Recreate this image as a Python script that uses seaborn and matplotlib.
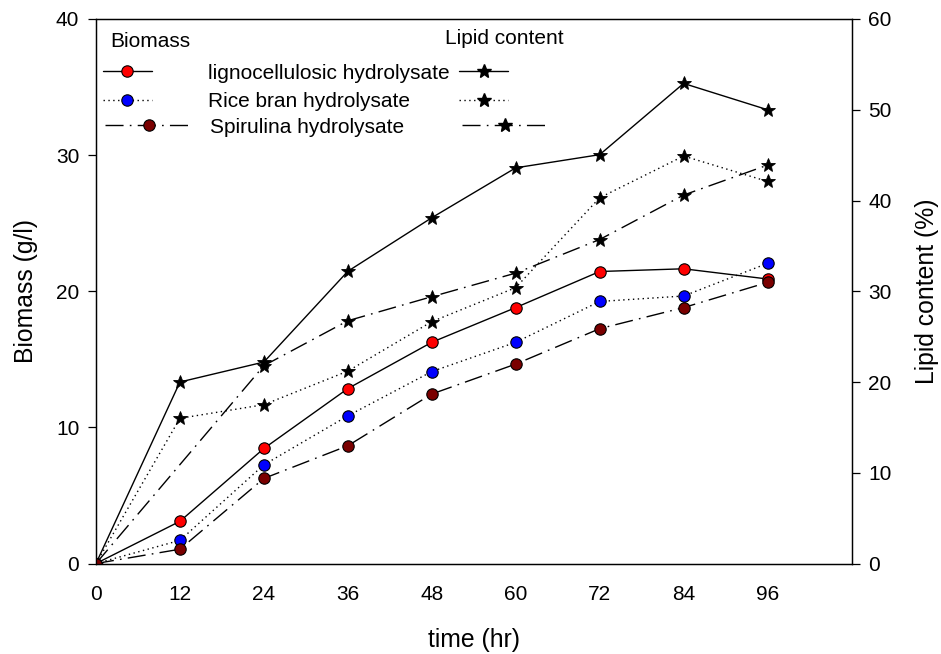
import numpy as np
import pandas as pd
import matplotlib
matplotlib.use("Agg")
import matplotlib.pyplot as plt
from matplotlib.lines import Line2D
import seaborn as sns

# ---------------- data ----------------
time = [0, 12, 24, 36, 48, 60, 72, 84, 96]
biomass_ligno = [0, 3.1, 8.45, 12.85, 16.25, 18.8, 21.45, 21.65, 20.9]
biomass_rice = [0, 1.7, 7.25, 10.85, 14.1, 16.25, 19.25, 19.65, 22.05]
biomass_spir = [0, 1.05, 6.25, 8.65, 12.45, 14.65, 17.25, 18.8, 20.65]

lipid_ligno = [0, 20.0, 22.2, 32.2, 38.1, 43.6, 45.05, 52.9, 50.0]
lipid_rice = [0, 16.0, 17.5, 21.2, 26.65, 30.4, 40.3, 44.9, 42.1]
time_lipid_spir = [0, 24, 36, 48, 60, 72, 84, 96]
lipid_spir = [0, 21.8, 26.75, 29.4, 32.0, 35.7, 40.6, 43.9]

series_labels = ["lignocellulosic hydrolysate", "Rice bran hydrolysate", "Spirulina hydrolysate"]
x_ticks = [0, 12, 24, 36, 48, 60, 72, 84, 96]

# ---------------- style ----------------
sns.set_theme(style="white")
plt.rcParams["font.family"] = ["Liberation Sans", "DejaVu Sans"]
plt.rcParams["axes.linewidth"] = 0.9
plt.rcParams["text.color"] = "black"
plt.rcParams["axes.labelcolor"] = "black"

TICK_FS = 15
LEG_FS = 15
LAB_FS = 17.8

fig = plt.figure(figsize=(9.41, 6.54), dpi=100)
fig.subplots_adjust(left=96 / 941, right=851.5 / 941, bottom=1 - 563.5 / 654, top=1 - 19 / 654)
ax = fig.add_subplot(111)
ax2 = ax.twinx()

lw = 1.0
styles = {
    "solid": "-",
    "dotted": (0, (1, 2.5)),
    "dashdot": (0, (13, 4.5, 1.2, 4.5)),
}
colors = ["#ff0000", "#0000ff", "#7a0000"]
lstyles = [styles["solid"], styles["dotted"], styles["dashdot"]]

bio_series = [biomass_ligno, biomass_rice, biomass_spir]
lip_series = [(time, lipid_ligno), (time, lipid_rice), (time_lipid_spir, lipid_spir)]

STAR_MS = 10.5
CIRC_MS = 8.2

# lipid (right axis) stars
for (tx, ly), ls in zip(lip_series, lstyles):
    df = pd.DataFrame({"time": tx, "lipid": ly})
    sns.lineplot(data=df, x="time", y="lipid", ax=ax2, color="black", linewidth=lw,
                 linestyle=ls, marker="*", markersize=STAR_MS, markerfacecolor="black",
                 markeredgecolor="black", markeredgewidth=0.6, legend=False)

# biomass (left axis) circles
for yv, c, ls in zip(bio_series, colors, lstyles):
    df = pd.DataFrame({"time": time, "biomass": yv})
    sns.lineplot(data=df, x="time", y="biomass", ax=ax, color="black",
                 linewidth=lw, linestyle=ls, marker="o", markersize=CIRC_MS,
                 markerfacecolor=c, markeredgecolor="black", markeredgewidth=0.8,
                 legend=False)

# biomass axis on top so circles sit above stars
ax.set_zorder(ax2.get_zorder() + 1)
ax.patch.set_visible(False)

ax.set_xlim(0, 108)
ax.set_ylim(0, 40)
ax2.set_ylim(0, 60)
ax.set_xticks(x_ticks)
ax.set_xticklabels([str(t) for t in x_ticks])
ax.set_yticks([0, 10, 20, 30, 40])
ax2.set_yticks([0, 10, 20, 30, 40, 50, 60])

for a in (ax, ax2):
    for s in a.spines.values():
        s.set_color("black")
        s.set_linewidth(0.9)
    a.grid(False)

ax.tick_params(axis="both", which="major", direction="out", length=6, width=0.9,
               color="black", labelsize=TICK_FS, pad=6, labelcolor="black")
ax.tick_params(axis="x", top=False, pad=9.5)
ax.tick_params(axis="y", right=False)
ax2.tick_params(axis="y", direction="out", length=6, width=0.9, color="black",
                labelsize=TICK_FS, pad=6, labelcolor="black")

ax.set_xlabel("time (hr)", fontsize=LAB_FS, labelpad=17, color="black")
ax.set_ylabel("Biomass (g/l)", fontsize=LAB_FS, labelpad=13, color="black")
ax2.set_ylabel("Lipid content (%)", fontsize=LAB_FS, labelpad=17, color="black")

# ---------------- legend ----------------
def bio_handle(c, ls):
    return Line2D([], [], color="black", linewidth=lw, linestyle=ls, marker="o",
                  markersize=CIRC_MS, markerfacecolor=c, markeredgecolor="black",
                  markeredgewidth=0.8)


def lip_handle(ls):
    return Line2D([], [], color="black", linewidth=lw, linestyle=ls, marker="*",
                  markersize=STAR_MS, markerfacecolor="black", markeredgecolor="black")


common = dict(frameon=False, fontsize=LEG_FS, labelspacing=0.45, borderpad=0,
              borderaxespad=0, loc="upper left")

# rows 1-2 (solid, dotted)
leg1 = ax.legend([bio_handle(c, ls) for c, ls in zip(colors[:2], lstyles[:2])],
                 series_labels[:2], bbox_to_anchor=(0.009, 0.918),
                 handlelength=2.35, handletextpad=2.7, **common)
ax.add_artist(leg1)
leg2 = ax.legend([lip_handle(ls) for ls in lstyles[:2]], ["", ""],
                 bbox_to_anchor=(0.481, 0.918), handlelength=2.35, handletextpad=0, **common)
ax.add_artist(leg2)
# row 3 (dash-dot) with a longer key
leg3 = ax.legend([bio_handle(colors[2], lstyles[2])], series_labels[2:],
                 bbox_to_anchor=(0.012, 0.819), handlelength=4.2, handletextpad=0.85, **common)
ax.add_artist(leg3)
leg4 = ax.legend([lip_handle(lstyles[2])], [""],
                 bbox_to_anchor=(0.484, 0.819), handlelength=4.2, handletextpad=0, **common)

ax.text(0.0185, 0.959, "Biomass", transform=ax.transAxes, fontsize=LEG_FS, va="center",
        ha="left", color="black")
ax.text(0.4616, 0.964, "Lipid content", transform=ax.transAxes, fontsize=LEG_FS, va="center",
        ha="left", color="black")

fig.savefig("out.png", dpi=100)
